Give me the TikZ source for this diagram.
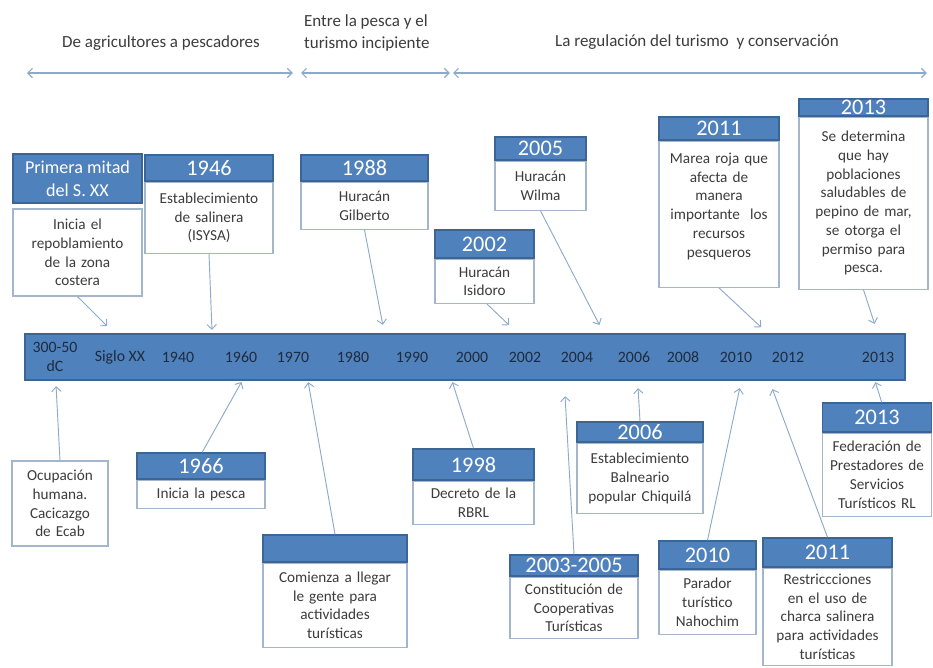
\documentclass[tikz,border=0pt]{standalone}
\usepackage{fontspec}
\setmainfont{Carlito}
\usetikzlibrary{positioning,arrows.meta}
\definecolor{hdrblue}{HTML}{4F81BD}
\definecolor{hdrline}{HTML}{3A6595}
\definecolor{boxline}{HTML}{A3B6CB}
\definecolor{linkblue}{HTML}{8DAACB}
\definecolor{bodytext}{HTML}{3C3C3C}
\definecolor{bartext}{HTML}{1E2B3C}

\begin{document}
\begin{tikzpicture}[x=0.03cm, y=-0.03cm, shorten >=1pt, >={Straight Barb[length=4pt,width=8pt]}]
    \tikzstyle{link}=[->, draw=linkblue, line width=0.8pt]
    \tikzstyle{phase}=[<->, draw=linkblue, line width=1pt]
    \tikzstyle{phase text}=[text=bodytext, font=\fontsize{14.5}{19.5}\selectfont]
    \tikzstyle{year}=[rectangle, fill=hdrblue, draw=hdrline, line width=1.2pt, text=white, inner sep=0pt, font=\fontsize{19}{20}\selectfont, align=center]
    \tikzstyle{event}=[rectangle, fill=white, draw=boxline, line width=1pt, text=bodytext, inner sep=2pt, align=center, font=\fontsize{13}{16}\selectfont]
    \tikzstyle{bar}=[rectangle, fill=hdrblue, draw=hdrline, line width=1.2pt, minimum width=26.4cm, minimum height=1.38cm]
    \tikzstyle{tick}=[text=bartext, font=\fontsize{13.5}{16}\selectfont, align=center, inner sep=0pt]

    \useasboundingbox (0,0) rectangle (933,667);

    % Phases on top
    \node[phase text] (F-1) at (161,43) {De agricultores a pescadores};
    \node[phase text, anchor=west, align=left] (F-2) at (300,33) {Entre la pesca y el\\turismo incipiente};
    \node[phase text] (F-3) at (697,42) {La regulación del turismo \ y conservación};
    \coordinate (P-1) at (27,73);
    \coordinate (P-2) at (294,73);
    \coordinate (P-3) at (301,73);
    \coordinate (P-4) at (451,73);
    \coordinate (P-5) at (453,73);
    \coordinate (P-6) at (928,73);
    \path (P-1) edge[phase] (P-2);
    \path (P-3) edge[phase] (P-4);
    \path (P-5) edge[phase] (P-6);

    % The time line
    \node[bar] (bar) at (465,357) {};
    \foreach \x/\lbl [count=\i] in {55/{300-50\\dC}, 120/Siglo XX, 178/1940, 241/1960, 293/1970, 353/1980, 412/1990, 472/2000, 525/2002, 577/2004, 634/2006, 683/2008, 736/2010, 788/2012, 878/2013}
        \node[tick] (T-\i) at (\x,357) {\lbl};

    % Events above the line
    \node[year, minimum width=3.87cm, minimum height=1.47cm, font=\fontsize{15.5}{19.5}\selectfont] (H-1) at (77.5,178.5) {Primera mitad\\del S. XX};
    \node[event, text width=3.73cm, minimum height=2.61cm] (B-1) at (77.5,252.5) {Inicia el\\repoblamiento\\de la zona\\costera};

    \node[year, minimum width=3.84cm, minimum height=0.78cm] (H-1946) at (209,168) {1946};
    \node[event, below=0pt of H-1946, text width=3.70cm, minimum height=2.13cm] (B-1946) {Establecimiento\\de salinera\\(ISYSA)};

    \node[year, minimum width=3.81cm, minimum height=0.78cm] (H-1988) at (364.5,168) {1988};
    \node[event, below=0pt of H-1988, text width=3.67cm, minimum height=1.41cm] (B-1988) {Huracán\\Gilberto};

    \node[year, minimum width=2.97cm, minimum height=0.84cm] (H-2002) at (484.5,244) {2002};
    \node[event, below=0pt of H-2002, text width=2.83cm, minimum height=1.32cm] (B-2002) {Huracán\\Isidoro};

    \node[year, minimum width=2.73cm, minimum height=0.69cm] (H-2005) at (540.5,148.5) {2005};
    \node[event, below=0pt of H-2005, text width=2.59cm, minimum height=1.47cm] (B-2005) {Huracán\\Wilma};

    \node[year, minimum width=3.60cm, minimum height=0.69cm] (H-2011a) at (719,128.5) {2011};
    \node[event, below=0pt of H-2011a, text width=3.46cm, minimum height=4.38cm] (B-2011a) {Marea roja que\\afecta de\\manera\\importante \ los\\recursos\\pesqueros\\ ~};

    \node[year, minimum width=3.87cm, minimum height=0.51cm] (H-2013a) at (863.5,107.5) {2013};
    \node[event, below=0pt of H-2013a, text width=3.73cm, minimum height=5.16cm] (B-2013a) {Se determina\\que hay\\poblaciones\\saludables de\\pepino de mar,\\se otorga el\\permiso para\\pesca.};

    \coordinate (A-1) at (108,327);
    \coordinate (A-2) at (212,331);
    \coordinate (A-3) at (383,326);
    \coordinate (A-4) at (510,326);
    \coordinate (A-5) at (600,326);
    \coordinate (A-6) at (762,328);
    \coordinate (A-7) at (875,325);
    \path (B-1.south) edge[link] (A-1);
    \path (B-1946.south) edge[link] (A-2);
    \path (B-1988.south) edge[link] (A-3);
    \path ([xshift=2pt]B-2002.south) edge[link] (A-4);
    \path (B-2005.south) edge[link] (A-5);
    \path (B-2011a.south) edge[link] (A-6);
    \path (B-2013a.south) edge[link] (A-7);

    % Events below the line
    \node[event, text width=2.74cm, minimum height=2.55cm] (N-1) at (60,503.5) {Ocupación\\humana.\\Cacicazgo\\de Ecab};

    \node[year, minimum width=3.84cm, minimum height=0.78cm] (H-1966) at (201,466) {1966};
    \node[event, below=0pt of H-1966, text width=3.70cm, minimum height=0.84cm] (B-1966) {Inicia la pesca};

    \node[year, minimum width=4.32cm, minimum height=0.81cm] (H-1970) at (335,548.5) {};
    \node[event, below=0pt of H-1970, text width=4.18cm, minimum height=2.52cm] (B-1970) {Comienza a llegar\\le gente para\\actividades\\turísticas};

    \node[year, minimum width=3.63cm, minimum height=0.93cm] (H-1998) at (473.5,464.5) {1998};
    \node[event, below=0pt of H-1998, text width=3.49cm, minimum height=1.29cm] (B-1998) {Decreto de la\\RBRL};

    \node[year, minimum width=3.84cm, minimum height=0.63cm] (H-2003) at (574,565.5) {2003-2005};
    \node[event, below=0pt of H-2003, text width=3.70cm, minimum height=1.83cm] (B-2003) {Constitución de\\Cooperativas\\Turísticas};

    \node[year, minimum width=3.78cm, minimum height=0.60cm] (H-2006) at (640,432) {2006};
    \node[event, below=0pt of H-2006, text width=3.64cm, minimum height=2.10cm] (B-2006) {Establecimiento\\Balneario\\popular Chiquilá};

    \node[year, minimum width=2.91cm, minimum height=0.84cm] (H-2010) at (707.5,555) {2010};
    \node[event, below=0pt of H-2010, text width=2.77cm, minimum height=1.92cm] (B-2010) {Parador\\turístico\\Nahochim};

    \node[year, minimum width=3.87cm, minimum height=0.87cm] (H-2011b) at (827.5,552.5) {2011};
    \node[event, below=0pt of H-2011b, text width=3.73cm, minimum height=2.91cm] (B-2011b) {Restriccciones\\en el uso de\\charca salinera\\para actividades\\turísticas};

    \node[year, minimum width=3.27cm, minimum height=0.87cm] (H-2013b) at (877,417.5) {2013};
    \node[event, below=0pt of H-2013b, text width=3.13cm, minimum height=2.49cm] (B-2013b) {Federación de\\Prestadores de\\Servicios\\Turísticos RL};

    \coordinate (C-1) at (56,385);
    \coordinate (C-2) at (242,381);
    \coordinate (C-3) at (308,381);
    \coordinate (C-4) at (452,381);
    \coordinate (C-5) at (565,395);
    \coordinate (C-6) at (638,387);
    \coordinate (C-7) at (740,387);
    \coordinate (C-8) at (772,388);
    \coordinate (C-9) at (875,381);
    \path (N-1.north) edge[link] (C-1);
    \path ([xshift=1pt]H-1966.north) edge[link] (C-2);
    \path (H-1970.north) edge[link] (C-3);
    \path (H-1998.north) edge[link] (C-4);
    \path (H-2003.north) edge[link] (C-5);
    \path (H-2006.north) edge[link] (C-6);
    \path (H-2010.north) edge[link] (C-7);
    \path (H-2011b.north) edge[link] (C-8);
    \path ([xshift=4pt]H-2013b.north) edge[link] (C-9);
\end{tikzpicture}
\end{document}
